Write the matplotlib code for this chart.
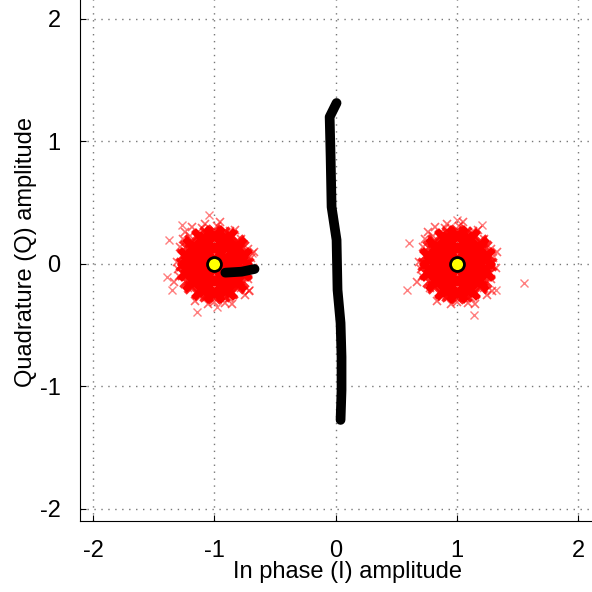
import matplotlib.pyplot as plt

plt.rcParams['font.family'] = ['Liberation Sans', 'DejaVu Sans']
plt.rcParams['axes.unicode_minus'] = False

# ideal BPSK symbols
sym_i = [-1.0, 1.0]
sym_q = [0.0, 0.0]

# dense core of received symbols (offsets from each symbol)
core_dx = [0.0,
           0.1, 0.05, -0.05, -0.1, -0.05, 0.05,
           0.19, 0.154, 0.059, -0.059, -0.154, -0.19, -0.154, -0.059, 0.059, 0.154,
           0.22, 0.175, 0.098, 0.0, -0.098, -0.175, -0.22, -0.22, -0.175, -0.098,
           0.0, 0.098, 0.175, 0.22]
core_dy = [0.0,
           0.0, 0.087, 0.087, 0.0, -0.087, -0.087,
           0.0, 0.112, 0.181, 0.181, 0.112, 0.0, -0.112, -0.181, -0.181, -0.112,
           0.05, 0.141, 0.203, 0.225, 0.203, 0.141, 0.05, -0.05, -0.141, -0.203,
           -0.225, -0.203, -0.141, -0.05]

# outer edge of the dense core
edge_dx = [0.27, 0.255, 0.23, 0.19, 0.135, 0.07, 0.0, -0.07, -0.135, -0.19, -0.23, -0.255,
           -0.27, -0.255, -0.23, -0.19, -0.135, -0.07, 0.0, 0.07, 0.135, 0.19, 0.23, 0.255]
edge_dy = [0.0, 0.07, 0.135, 0.19, 0.23, 0.255, 0.27, 0.255, 0.23, 0.19, 0.135, 0.07,
           0.0, -0.07, -0.135, -0.19, -0.23, -0.255, -0.27, -0.255, -0.23, -0.19, -0.135, -0.07]

# fringe of the noise clouds
fringe_dx = [0.30, 0.28, 0.22, 0.12, 0.0, -0.12, -0.22, -0.29, -0.31, -0.28, -0.2, -0.1,
             0.02, 0.13, 0.22, 0.28, -0.24, 0.05, 0.29, -0.05, 0.32, -0.3, 0.17, -0.16,
             0.09, -0.26, 0.25, -0.08, 0.33, -0.33, 0.15, -0.18]
fringe_dy = [0.05, -0.12, -0.2, -0.28, -0.31, -0.27, -0.2, -0.1, 0.02, 0.14, 0.23, 0.29,
             0.31, 0.27, 0.2, 0.12, 0.26, 0.34, -0.22, -0.33, -0.03, -0.04, 0.28, -0.3,
             -0.32, 0.2, -0.25, 0.33, 0.1, -0.15, -0.33, 0.3]

# isolated outliers
left_out_i = [-1.047, -1.27, -1.377, -1.393, -1.352, -1.146, -0.981, -0.717, -0.693]
left_out_q = [0.40, 0.32, 0.196, -0.106, -0.212, -0.392, -0.351, -0.212, 0.09]
right_out_i = [0.602, 0.585, 1.55, 1.138, 1.204, 0.998, 1.319]
right_out_q = [0.171, -0.212, -0.155, -0.416, 0.318, 0.359, -0.212]

# hand drawn strokes
stroke1_i = [0.008, -0.049, -0.041, -0.033, 0.008, 0.016, 0.041, 0.049, 0.049, 0.041]
stroke1_q = [1.314, 1.2, 0.873, 0.465, 0.196, -0.212, -0.482, -0.759, -1.029, -1.273]
stroke2_i = [-0.909, -0.775, -0.668]
stroke2_q = [-0.071, -0.063, -0.041]

fig = plt.figure(figsize=(5.92, 5.92), dpi=100)
ax = fig.add_axes([80 / 592, 71 / 592, 534.6 / 592, 538.8 / 592])

for k in range(2):
    ci, cq = sym_i[k], sym_q[k]
    ax.plot([ci + d for d in fringe_dx], [cq + d for d in fringe_dy], 'x', color='red',
            markersize=6, markeredgewidth=1.2, alpha=0.6)
    ax.plot([ci + d for d in edge_dx], [cq + d for d in edge_dy], 'x', color='red',
            markersize=8, markeredgewidth=2.5, alpha=0.85)
    ax.plot([ci + d for d in core_dx], [cq + d for d in core_dy], 'x', color='red',
            markersize=13, markeredgewidth=5)
ax.plot(left_out_i, left_out_q, 'x', color='red', markersize=6, markeredgewidth=1, alpha=0.5)
ax.plot(right_out_i, right_out_q, 'x', color='red', markersize=6, markeredgewidth=1, alpha=0.5)

ax.plot(sym_i, sym_q, 'o', markerfacecolor='yellow', markeredgecolor='black',
        markersize=10, markeredgewidth=2)

ax.plot(stroke1_i, stroke1_q, '-', color='black', linewidth=7, solid_capstyle='round')
ax.plot(stroke2_i, stroke2_q, '-', color='black', linewidth=7, solid_capstyle='round')

ax.set_xlim(-2.107, 2.3)
ax.set_ylim(-2.098, 2.3)
ax.set_xticks([-2, -1, 0, 1, 2])
ax.set_yticks([-2, -1, 0, 1, 2])
ax.grid(True, color='#777777', linestyle=(0, (1, 4)), linewidth=1)
ax.tick_params(direction='in', length=4, labelsize=17, pad=14)
ax.set_xlabel('In phase (I) amplitude', fontsize=17, labelpad=-1)
ax.set_ylabel('Quadrature (Q) amplitude', fontsize=17, labelpad=2)

fig.savefig('out.png', dpi=100)
